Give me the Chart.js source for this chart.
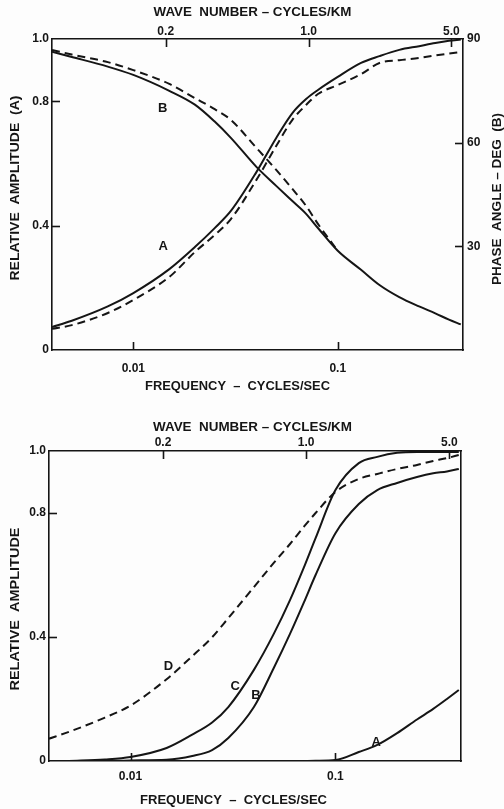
<!DOCTYPE html>
<html>
<head>
<meta charset="utf-8">
<script src="https://cdn.jsdelivr.net/npm/chart.js@4/dist/chart.umd.min.js"></script>
<style>
  html, body { margin: 0; padding: 0; background: #fdfdfd; }
  #page { position: relative; width: 504px; height: 809px; overflow: hidden; background: #fdfdfd; }
  #upper { position: absolute; left: 0; top: 0; }
  #lower { position: absolute; left: 0; top: 400px; }
</style>
</head>
<body>
<div id="page">
  <canvas id="upper" width="504" height="400"></canvas>
  <canvas id="lower" width="504" height="409"></canvas>
</div>
<script>
// Frequency (cycles/sec) at which every curve is sampled
const frequency = [0.004, 0.005, 0.0075, 0.01, 0.015, 0.02, 0.025, 0.03, 0.04, 0.05,
                   0.06, 0.07, 0.08, 0.1, 0.13, 0.16, 0.2, 0.25, 0.3, 0.35, 0.4];

// Upper panel: relative amplitude (A) and phase angle in degrees (B)
const upperAmpSolid  = [0.074, 0.094, 0.140, 0.183, 0.260, 0.331, 0.392, 0.447, 0.572, 0.682,
                        0.762, 0.807, 0.836, 0.878, 0.923, 0.945, 0.965, 0.977, 0.987, 0.994, 0.998];
const upperAmpDashed = [0.068, 0.080, 0.119, 0.161, 0.235, 0.315, 0.370, 0.421, 0.547, 0.656,
                        0.740, 0.788, 0.823, 0.852, 0.887, 0.923, 0.932, 0.939, 0.947, 0.953, 0.958];
const upperPhaseSolid  = [86.3, 84.8, 82.0, 79.6, 75.0, 71.0, 66.1, 61.4, 53.0, 47.5,
                          43.1, 39.4, 35.3, 28.7, 23.2, 18.8, 15.3, 12.6, 10.6, 8.8, 7.4];
const upperPhaseDashed = [86.8, 85.5, 83.3, 81.0, 77.0, 72.9, 69.7, 66.6, 58.5, 52.1,
                          46.6, 41.7, 36.5, 28.7, null, null, null, null, null, null, null];

// Lower panel: relative amplitude of curves A-D
const lowerD = [0.072, 0.094, 0.140, 0.179, 0.264, 0.338, 0.399, 0.461, 0.561, 0.639,
                0.700, 0.755, 0.800, 0.868, 0.910, 0.926, 0.942, 0.955, 0.968, 0.977, 0.987];
const lowerC = [null, 0.000, 0.005, 0.013, 0.042, 0.085, 0.124, 0.174, 0.294, 0.410,
                0.519, 0.623, 0.719, 0.874, 0.961, 0.981, 0.994, 0.997, 0.997, 0.997, 0.997];
const lowerB = [null, null, 0.000, 0.002, 0.004, 0.016, 0.035, 0.074, 0.174, 0.300,
                0.410, 0.510, 0.600, 0.735, 0.829, 0.874, 0.897, 0.916, 0.928, 0.934, 0.942];
const lowerA = [null, null, null, null, null, null, null, null, null, null,
                null, 0.000, 0.001, 0.003, 0.029, 0.052, 0.090, 0.134, 0.168, 0.200, 0.229];

// Tick values
const freqTicks  = [0.01, 0.1];
const waveTicks  = [0.2, 1.0, 5.0];
const ampTicks   = [0, 0.4, 0.8, 1.0];
const phaseTicks = [30, 60, 90];

// Axis extents; wave number = frequency / speed
const F_MIN = 0.004, F_MAX = 0.41;
const SPEED = 0.072; // km per second

const INK = '#151515';
const FONT = "'Liberation Sans', Arial, sans-serif";
const TICK = 8;

function series(values) {
  return frequency.map((f, i) => ({ x: f, y: values[i] }));
}

function line(values, axis, dashed) {
  return {
    data: series(values),
    yAxisID: axis,
    borderColor: INK,
    borderWidth: 2,
    borderDash: dashed ? [8, 5] : [],
    pointRadius: 0,
    fill: false,
    spanGaps: false,
    cubicInterpolationMode: 'monotone'
  };
}

function fixedTicks(values) {
  return s => { s.ticks = values.map(v => ({ value: v })); };
}

function fitWidth(w)  { return s => { s.width = w; }; }
function fitHeight(h) { return s => { s.height = h; }; }

const tickFont = { family: FONT, size: 12, weight: 'bold' };

function scales(c) {
  return {
    x: {
      type: 'logarithmic', position: 'bottom', min: F_MIN, max: F_MAX,
      afterBuildTicks: fixedTicks(freqTicks), afterFit: fitHeight(c.bottom),
      ticks: { callback: v => String(v), font: tickFont, color: INK, padding: c.padBottom, maxRotation: 0, autoSkip: false },
      grid: { display: false, drawTicks: false },
      border: { display: true, color: INK, width: 1.6 }
    },
    x2: {
      type: 'logarithmic', position: 'top', min: F_MIN / SPEED, max: F_MAX / SPEED,
      afterBuildTicks: fixedTicks(waveTicks), afterFit: fitHeight(c.top),
      ticks: { callback: v => Number(v).toFixed(1), font: tickFont, color: INK, padding: c.padTop, maxRotation: 0, autoSkip: false },
      grid: { display: false, drawTicks: false },
      border: { display: true, color: INK, width: 1.6 }
    },
    y: {
      type: 'linear', position: 'left', min: 0, max: 1,
      afterBuildTicks: fixedTicks(ampTicks), afterFit: fitWidth(c.left),
      ticks: { callback: v => (v === 0 ? '0' : Number(v).toFixed(1)), font: tickFont, color: INK, padding: 3 },
      grid: { display: false, drawTicks: false },
      border: { display: true, color: INK, width: 1.6 }
    },
    y2: {
      type: 'linear', position: 'right', min: 0, max: c.phase ? 90 : 1,
      afterBuildTicks: fixedTicks(c.phase ? phaseTicks : []), afterFit: fitWidth(c.right),
      ticks: { display: !!c.phase, callback: v => String(v), font: tickFont, color: INK, padding: 4 },
      grid: { display: false, drawTicks: false },
      border: { display: true, color: INK, width: 1.6 }
    }
  };
}

// Inward tick marks, curve names and axis titles
const decorations = {
  id: 'decorations',
  afterDraw(chart, args, opts) {
    const ctx = chart.ctx;
    const area = chart.chartArea;
    ctx.save();
    ctx.strokeStyle = INK;
    ctx.lineWidth = 1.6;
    for (const m of opts.marks) {
      const s = chart.scales[m.scale];
      for (const v of m.values) {
        const p = Math.round(s.getPixelForValue(v)) + 0.5;
        ctx.beginPath();
        if (s.isHorizontal()) {
          const y0 = s.position === 'top' ? area.top : area.bottom;
          const dir = s.position === 'top' ? 1 : -1;
          ctx.moveTo(p, y0); ctx.lineTo(p, y0 + dir * TICK);
        } else {
          const x0 = s.position === 'left' ? area.left : area.right;
          const dir = s.position === 'left' ? 1 : -1;
          ctx.moveTo(x0, p); ctx.lineTo(x0 + dir * TICK, p);
        }
        ctx.stroke();
      }
    }
    ctx.fillStyle = INK;
    ctx.textAlign = 'center';
    ctx.textBaseline = 'middle';
    ctx.font = `bold 13px ${FONT}`;
    for (const n of opts.names) {
      const x = chart.scales.x.getPixelForValue(n.f);
      const y = chart.scales.y.getPixelForValue(n.v);
      ctx.fillText(n.text, x, y);
    }
    for (const t of opts.titles) {
      ctx.save();
      ctx.font = `bold 13px ${FONT}`;
      ctx.translate(t.x, t.y);
      if (t.rot) ctx.rotate(-Math.PI / 2);
      const w = ctx.measureText(t.text).width;
      ctx.scale(t.w / w, 1);
      ctx.fillText(t.text, 0, 0);
      ctx.restore();
    }
    ctx.restore();
  }
};

const baseOptions = {
  responsive: false,
  animation: false,
  devicePixelRatio: 1,
  layout: { padding: 0 },
  plugins: { legend: { display: false }, tooltip: { enabled: false } }
};

new Chart(document.getElementById('upper'), {
  type: 'line',
  data: {
    datasets: [
      line(upperAmpSolid, 'y', false),
      line(upperAmpDashed, 'y', true),
      line(upperPhaseSolid, 'y2', false),
      line(upperPhaseDashed, 'y2', true)
    ]
  },
  options: Object.assign({}, baseOptions, {
    scales: scales({ left: 52, right: 41, top: 39, bottom: 50, padTop: 0, padBottom: 11, phase: true }),
    plugins: Object.assign({}, baseOptions.plugins, {
      decorations: {
        marks: [
          { scale: 'x', values: freqTicks },
          { scale: 'x2', values: waveTicks },
          { scale: 'y', values: [0.4, 0.8] },
          { scale: 'y2', values: [30, 60] }
        ],
        names: [
          { text: 'B', f: 0.0139, v: 0.778 },
          { text: 'A', f: 0.0140, v: 0.334 }
        ],
        titles: [
          { text: 'WAVE  NUMBER – CYCLES/KM', x: 252.5, y: 12.8, w: 198 },
          { text: 'FREQUENCY  –  CYCLES/SEC', x: 237.5, y: 386, w: 185 },
          { text: 'RELATIVE  AMPLITUDE  (A)', x: 15, y: 188, w: 185, rot: true },
          { text: 'PHASE  ANGLE – DEG  (B)', x: 497.5, y: 199, w: 172, rot: true }
        ]
      }
    })
  }),
  plugins: [decorations]
});

new Chart(document.getElementById('lower'), {
  type: 'line',
  data: {
    datasets: [
      line(lowerD, 'y', true),
      line(lowerC, 'y', false),
      line(lowerB, 'y', false),
      line(lowerA, 'y', false)
    ]
  },
  options: Object.assign({}, baseOptions, {
    scales: scales({ left: 49, right: 43, top: 51, bottom: 48, padTop: 1, padBottom: 8, phase: false }),
    plugins: Object.assign({}, baseOptions.plugins, {
      decorations: {
        marks: [
          { scale: 'x', values: freqTicks },
          { scale: 'x2', values: waveTicks },
          { scale: 'y', values: [0.4, 0.8] }
        ],
        names: [
          { text: 'D', f: 0.0153, v: 0.306 },
          { text: 'C', f: 0.0324, v: 0.242 },
          { text: 'B', f: 0.0409, v: 0.213 },
          { text: 'A', f: 0.158, v: 0.061 }
        ],
        titles: [
          { text: 'WAVE  NUMBER – CYCLES/KM', x: 252.5, y: 27, w: 199 },
          { text: 'FREQUENCY  –  CYCLES/SEC', x: 233.5, y: 400.5, w: 187 },
          { text: 'RELATIVE  AMPLITUDE', x: 15, y: 209, w: 163, rot: true }
        ]
      }
    })
  }),
  plugins: [decorations]
});
</script>
</body>
</html>
